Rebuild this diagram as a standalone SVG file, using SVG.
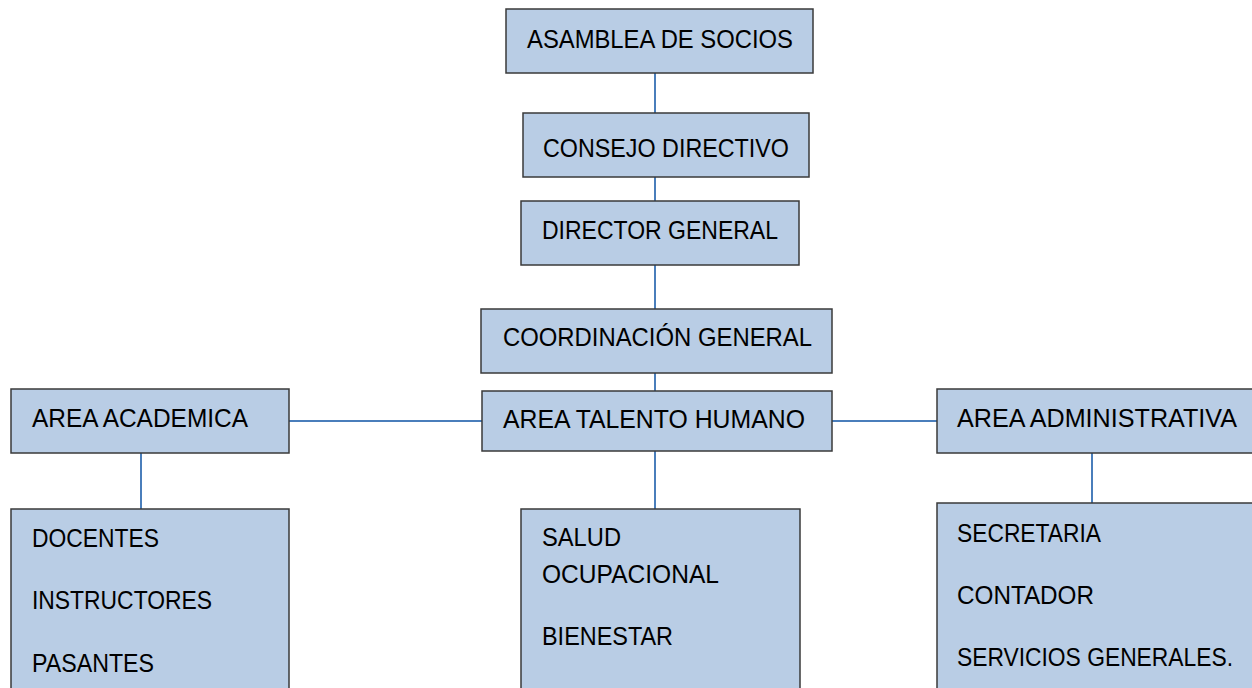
<svg xmlns="http://www.w3.org/2000/svg" width="1252" height="688" viewBox="0 0 1252 688">
<style>
.box{fill:#B9CDE5;stroke:#3A3A3A;stroke-width:1.5}
.t{font-family:"Liberation Sans",Arial,sans-serif;font-size:25px;fill:#000}
.c{stroke:#4A7EBB;stroke-width:2;fill:none}
</style>
<rect width="1252" height="688" fill="#fff"/>
<g id="connectors">
<line class="c" x1="655" y1="73" x2="655" y2="113"/>
<line class="c" x1="655" y1="177" x2="655" y2="201"/>
<line class="c" x1="655" y1="265" x2="655" y2="309"/>
<line class="c" x1="655" y1="373" x2="655" y2="391"/>
<line class="c" x1="289" y1="421" x2="482" y2="421"/>
<line class="c" x1="832" y1="421" x2="937" y2="421"/>
<line class="c" x1="141" y1="453" x2="141" y2="509"/>
<line class="c" x1="655" y1="451" x2="655" y2="509"/>
<line class="c" x1="1092" y1="453" x2="1092" y2="503"/>
</g>
<g id="asamblea">
<rect class="box" x="506" y="9" width="307" height="64"/>
<text class="t" x="527" y="48" textLength="266" lengthAdjust="spacingAndGlyphs">ASAMBLEA DE SOCIOS</text>
</g>
<g id="consejo">
<rect class="box" x="523" y="113" width="286" height="64"/>
<text class="t" x="543" y="157" textLength="246" lengthAdjust="spacingAndGlyphs">CONSEJO DIRECTIVO</text>
</g>
<g id="director">
<rect class="box" x="521" y="201" width="278" height="64"/>
<text class="t" x="542" y="239" textLength="236" lengthAdjust="spacingAndGlyphs">DIRECTOR GENERAL</text>
</g>
<g id="coordinacion">
<rect class="box" x="481" y="309" width="351" height="64"/>
<text class="t" x="503" y="346" textLength="309" lengthAdjust="spacingAndGlyphs">COORDINACIÓN GENERAL</text>
</g>
<g id="talento">
<rect class="box" x="482" y="391" width="350" height="60"/>
<text class="t" x="503" y="428" textLength="302" lengthAdjust="spacingAndGlyphs">AREA TALENTO HUMANO</text>
</g>
<g id="academica">
<rect class="box" x="11" y="389" width="278" height="64"/>
<text class="t" x="32" y="427" textLength="216" lengthAdjust="spacingAndGlyphs">AREA ACADEMICA</text>
</g>
<g id="administrativa">
<rect class="box" x="937" y="389" width="330" height="64"/>
<text class="t" x="957" y="427" textLength="280" lengthAdjust="spacingAndGlyphs">AREA ADMINISTRATIVA</text>
</g>
<g id="academica-staff">
<rect class="box" x="11" y="509" width="278" height="200"/>
<text class="t" x="32" y="547" textLength="127" lengthAdjust="spacingAndGlyphs">DOCENTES</text>
<text class="t" x="32" y="609" textLength="180" lengthAdjust="spacingAndGlyphs">INSTRUCTORES</text>
<text class="t" x="32" y="672" textLength="122" lengthAdjust="spacingAndGlyphs">PASANTES</text>
</g>
<g id="talento-staff">
<rect class="box" x="521" y="509" width="279" height="200"/>
<text class="t" x="542" y="546" textLength="79" lengthAdjust="spacingAndGlyphs">SALUD</text>
<text class="t" x="542" y="583" textLength="177" lengthAdjust="spacingAndGlyphs">OCUPACIONAL</text>
<text class="t" x="542" y="645" textLength="131" lengthAdjust="spacingAndGlyphs">BIENESTAR</text>
</g>
<g id="administrativa-staff">
<rect class="box" x="937" y="503" width="330" height="200"/>
<text class="t" x="957" y="542" textLength="144" lengthAdjust="spacingAndGlyphs">SECRETARIA</text>
<text class="t" x="957" y="604" textLength="137" lengthAdjust="spacingAndGlyphs">CONTADOR</text>
<text class="t" x="957" y="666" textLength="276" lengthAdjust="spacingAndGlyphs">SERVICIOS GENERALES.</text>
</g>
</svg>
